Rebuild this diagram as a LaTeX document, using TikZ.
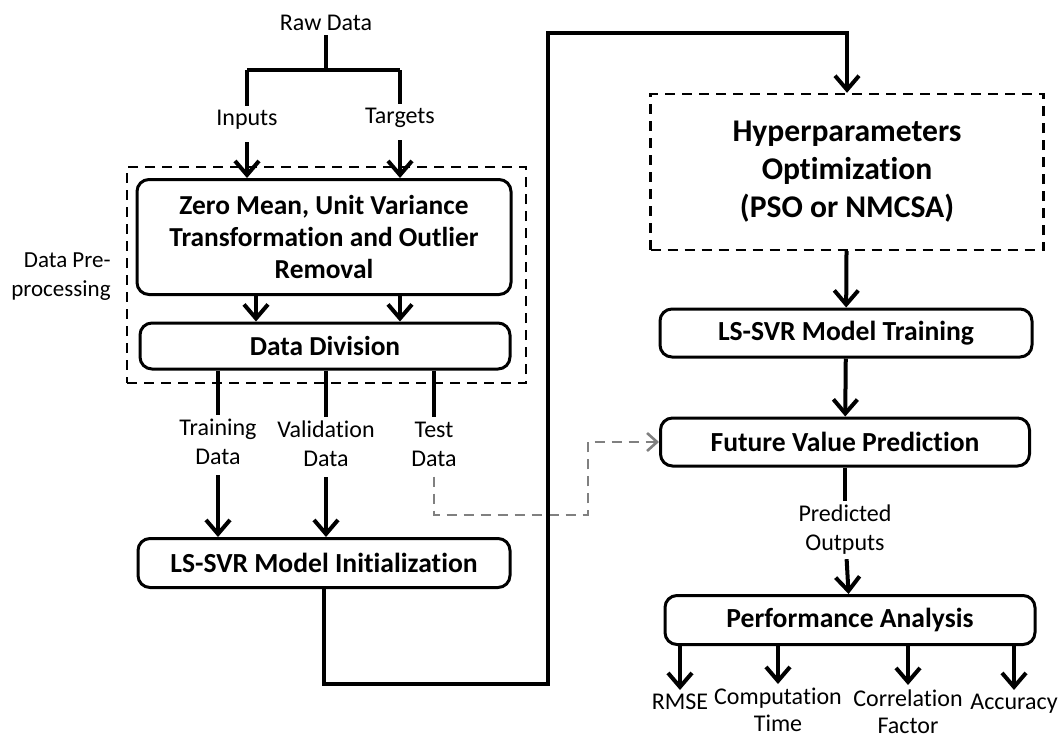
\documentclass[tikz,border=0pt]{standalone}
\usepackage{fontspec}
\setmainfont{Carlito}[Ligatures=NoCommon]
\usetikzlibrary{arrows.meta}
\tikzstyle{arrow} = [line width=2pt,-{Straight Barb[length=7pt,width=12pt]}]
\tikzstyle{line} = [line width=2pt]
\tikzstyle{mBox} = [rectangle, rounded corners=6pt, draw=black, line width=1.5pt, inner sep=0pt, align=center, font=\fontsize{13.8}{16}\selectfont\bfseries]
\tikzstyle{mDash} = [rectangle, draw=black, line width=1.2pt, dash pattern=on 5pt off 3.5pt, inner sep=0pt, align=center]
\tikzstyle{mLabel} = [align=center, inner sep=2pt, font=\fontsize{12}{14.5}\selectfont]
\tikzstyle{testArrow} = [draw=gray, line width=1.3pt, dash pattern=on 5pt off 3.5pt, -{Straight Barb[length=5pt,width=9pt]}]

\begin{document}
\begin{tikzpicture}[x=0.5pt,y=-0.5pt]
        \useasboundingbox (0,0) rectangle (1059,740);

        % left column
        \node[mLabel] (raw) at (326,23) {Raw Data};
        \coordinate (split) at (326,70);
        \node[mLabel] (inputs) at (247,120) {Inputs};
        \node[mLabel] (targets) at (400,118) {Targets};

        \node[mDash, minimum width=199.5pt, minimum height=108pt] (prep) at (326.5,275) {};
        \node[mLabel, align=right, anchor=east, font=\fontsize{11.5}{14.5}\selectfont] (prepText) at (115,277) {Data Pre-\\processing};
        \node[mBox, minimum width=187pt, minimum height=57.5pt, font=\fontsize{13.7}{15.8}\selectfont\bfseries] (zmuv) at (324,237) {Zero Mean, Unit Variance\\Transformation and Outlier\\Removal};
        \node[mBox, minimum width=185pt, minimum height=23pt, font=\fontsize{13.7}{15}\selectfont\bfseries] (division) at (325,346) {Data Division};

        \node[mLabel] (train) at (218,442) {Training\\Data};
        \node[mLabel] (valid) at (326,444) {Validation\\Data};
        \node[mLabel] (test) at (434,444) {Test\\Data};

        \node[mBox, minimum width=186pt, minimum height=24.5pt] (init) at (324,563) {LS-SVR Model Initialization};
        \coordinate (loopA) at (548,684);
        \coordinate (loopB) at (548,33);

        % right column
        \node[mDash, minimum width=196.5pt, minimum height=78pt, font=\fontsize{15.8}{19}\selectfont\bfseries] (hyper) at (847,172) {Hyperparameters\\Optimization\\(PSO or NMCSA)};
        \node[mBox, minimum width=186pt, minimum height=24pt] (training) at (846,333) {LS-SVR Model Training};
        \node[mBox, minimum width=184.5pt, minimum height=24pt] (future) at (845,442) {Future Value Prediction};
        \node[mLabel] (predicted) at (845,530) {Predicted\\Outputs};
        \node[mBox, minimum width=185pt, minimum height=24.5pt] (perf) at (850,620) {Performance Analysis};
        \coordinate (testBend) at (588,515);

        \node[mLabel, anchor=north] (rmse) at (680,690) {RMSE};
        \node[mLabel, anchor=north, font=\fontsize{12}{13.5}\selectfont] (comp) at (778,684) {Computation\\Time};
        \node[mLabel, anchor=north, font=\fontsize{12}{13.5}\selectfont] (corr) at (908,685) {Correlation\\Factor};
        \node[mLabel, anchor=north] (acc) at (1014,690) {Accuracy};

        \draw[line] (raw) -- (split);
        \draw[line] (inputs.north |- split) -- (targets.north |- split);
        \draw[line] (inputs.north |- split) -- (inputs);
        \draw[line] (targets.north |- split) -- (targets);
        \draw[arrow, shorten <=4pt] (inputs) -- (inputs |- zmuv.north);
        \draw[arrow, shorten <=4pt] (targets) -- (targets |- zmuv.north);
        \draw[arrow] ([xshift=-34pt]zmuv.south) -- ([xshift=-34pt]zmuv.south |- division.north);
        \draw[arrow] (targets |- zmuv.south) -- (targets |- division.north);

        \draw[line] (train |- division.south) -- (train);
        \draw[line] (valid |- division.south) -- (valid);
        \draw[line] (test |- division.south) -- (test);
        \draw[arrow, shorten <=3pt] (train) -- (train |- init.north);
        \draw[arrow, shorten <=3pt] (valid) -- (valid |- init.north);
        \draw[testArrow, shorten <=3pt] (test) |- (testBend) |- (future.west);

        \draw[arrow] (init.south) |- (loopA) -- (loopB) -| (hyper.north);
        \draw[arrow] (hyper) -- (training);
        \draw[arrow] (training) -- (future);
        \draw[line] (future) -- (predicted);
        \draw[arrow] (predicted) -- (perf);

        \draw[arrow] (perf.south -| rmse) -- (rmse);
        \draw[arrow] (perf.south -| comp) -- (comp);
        \draw[arrow] (perf.south -| corr) -- (corr);
        \draw[arrow] (perf.south -| acc) -- (acc);
\end{tikzpicture}
\end{document}
